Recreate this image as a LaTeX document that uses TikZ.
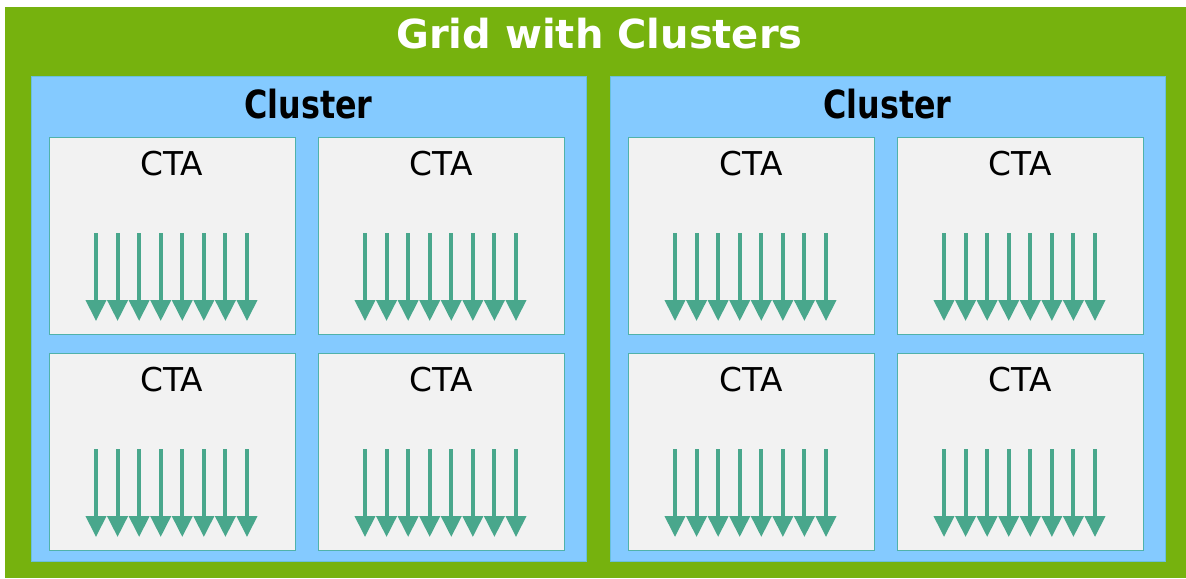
\documentclass[tikz,border=0pt]{standalone}
\usepackage{fontspec}
\setmainfont{DejaVu Sans}
\newfontfamily\clusterfont[FakeStretch=0.82]{DejaVu Sans}
\usepackage{xcolor}
\usetikzlibrary{arrows.meta}
\usetikzlibrary{positioning}

\definecolor{gridgreen}{RGB}{118,178,14}
\definecolor{clusterblue}{RGB}{132,202,255}
\definecolor{clusteredge}{RGB}{105,192,220}
\definecolor{ctagray}{RGB}{242,242,242}
\definecolor{ctaedge}{RGB}{80,178,170}
\definecolor{threadgreen}{RGB}{73,167,140}

\tikzset{
  clusterbox/.style={draw=clusteredge, line width=0.5pt, fill=clusterblue,
    minimum width=277.5pt, minimum height=242.5pt, inner sep=0pt, anchor=north west},
  ctabox/.style={draw=ctaedge, line width=0.7pt, fill=ctagray,
    minimum width=123pt, minimum height=98.5pt, inner sep=0pt, anchor=north west},
  thread/.style={threadgreen, line width=2pt, -{Triangle[width=10pt,length=10.5pt]}}
}

\begin{document}
\begin{tikzpicture}[x=0.5pt,y=-0.5pt]
\useasboundingbox (0,0) rectangle (1186,578);
\fill[white] (0,0) rectangle (1186,578);
\fill[gridgreen] (5,7) rectangle (1186,578);
\node[anchor=base, inner sep=0pt, text=white, font=\bfseries\fontsize{20}{24}\selectfont] (title) at (599.5,48) {Grid with Clusters};
% two clusters, four CTAs each
\foreach \cx/\cl in {0/a, 579/b} {
  \node[clusterbox] (cluster\cl) at (31+\cx,76) {};
  \node[anchor=base, inner sep=0pt, font=\clusterfont\bfseries\fontsize{19.4}{23}\selectfont] (clusterlabel\cl) at (308.5+\cx,118) {Cluster};
  \foreach \i/\dx/\dy in {1/0/0, 2/269/0, 3/0/216, 4/269/216} {
    \node[ctabox] (cta\cl\i) at (49+\cx+\dx,137+\dy) {};
    \node[anchor=base, inner sep=0pt, font=\fontsize{16.4}{20}\selectfont] (ctalabel\cl\i) at (172+\cx+\dx,175+\dy) {CTA};
    \foreach \t in {0,...,7}
      \draw[thread] (96+\cx+\dx+21.57*\t,233+\dy) -- (96+\cx+\dx+21.57*\t,321+\dy);
  }
}
\end{tikzpicture}
\end{document}
